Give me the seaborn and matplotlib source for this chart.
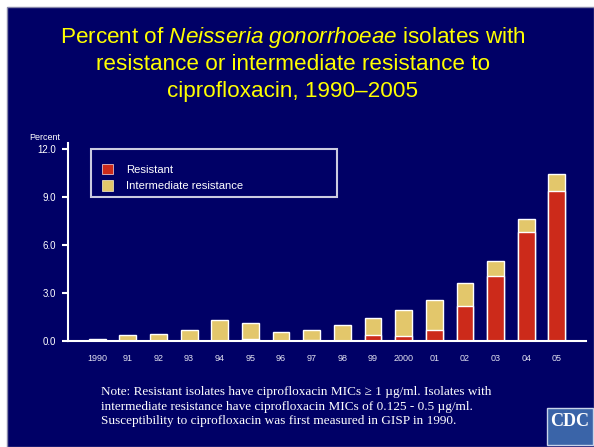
import numpy as np
import pandas as pd
import seaborn as sns
import matplotlib.pyplot as plt
from matplotlib.patches import Patch, Rectangle
from matplotlib.legend_handler import HandlerPatch

# data
years = ['1990', '91', '92', '93', '94', '95', '96', '97',
         '98', '99', '2000', '01', '02', '03', '04', '05']
resistant = [0.0, 0.0, 0.0, 0.0, 0.0, 0.1, 0.0, 0.05,
             0.0, 0.35, 0.3, 0.7, 2.2, 4.1, 6.8, 9.4]
intermediate = [0.15, 0.37, 0.45, 0.72, 1.34, 1.0, 0.58, 0.62,
                1.02, 1.11, 1.62, 1.87, 1.45, 0.93, 0.84, 1.06]
y_ticks = [0, 3, 6, 9, 12]

navy = '#000066'
red = '#CC2A1A'
yellow = '#E3C76B'

sns.set_style('ticks')
plt.rcParams['font.family'] = ['Liberation Sans', 'DejaVu Sans']
plt.rcParams['mathtext.fontset'] = 'custom'
plt.rcParams['mathtext.rm'] = 'Liberation Sans'
plt.rcParams['mathtext.it'] = 'Liberation Sans:italic'

df = pd.DataFrame({'year': years, 'resistant': resistant,
                   'intermediate': intermediate})
df['total'] = df['resistant'] + df['intermediate']

fig = plt.figure(figsize=(5.94, 4.47), dpi=100, facecolor='white')
fig.patches.append(Rectangle((7 / 594, 0), 1 - 7 / 594, 1 - 7 / 447,
                             transform=fig.transFigure, facecolor=navy,
                             edgecolor='#8888aa', lw=1, zorder=-10))

ax = fig.add_axes([68 / 594, 1 - 341 / 447, (586 - 68) / 594, (341 - 143) / 447])
ax.set_facecolor('none')

# stacked bars: total first (yellow), resistant on top of it (red)
sns.barplot(data=df, x='year', y='total', color=yellow, saturation=1,
            width=0.55, edgecolor='white', linewidth=1, ax=ax)
sns.barplot(data=df, x='year', y='resistant', color=red, saturation=1,
            width=0.55, edgecolor='white', linewidth=1, ax=ax)

ax.set_xlim(-0.95, 15.95)
ax.set_ylim(0, 12.4)
ax.set_yticks(y_ticks)
ax.set_yticklabels(['%.1f' % v for v in y_ticks])
ax.set_xlabel('')
ax.set_ylabel('')
sns.despine(ax=ax)
for s in ['left', 'bottom']:
    ax.spines[s].set_color('white')
    ax.spines[s].set_linewidth(1.5)
ax.tick_params(axis='y', colors='white', length=4, width=1.5,
               labelsize=7, pad=4.5)
ax.tick_params(axis='x', length=0, labelsize=6.5, labelcolor='#e0e0f0', pad=9.5)

handles = [Patch(facecolor=red, edgecolor='#ffdddd', lw=0.5, label='Resistant'),
           Patch(facecolor=yellow, edgecolor='#fff3cc', lw=0.5,
                 label='Intermediate resistance')]
leg = ax.legend(handles=handles, loc='upper left', mode='expand',
                bbox_to_anchor=(91 / 594, 1 - 197 / 447, 246 / 594, 48 / 447),
                bbox_transform=fig.transFigure, fontsize=8.1,
                title=' ', title_fontsize=2.8,
                frameon=True, fancybox=False, borderpad=0.46,
                labelspacing=0.5, handlelength=1.54, handleheight=1.02,
                handletextpad=1.11, borderaxespad=0,
                handler_map={Patch: HandlerPatch(xpad=0.52)})
leg.get_frame().set_facecolor(navy)
leg.get_frame().set_edgecolor('white')
leg.get_frame().set_linewidth(1.5)
for t in leg.get_texts():
    t.set_color('white')

fig.text(60 / 594, 1 - 137 / 447, 'Percent', color='white', fontsize=6.5,
         ha='right', va='center')

# title
fig.text(0.493, 1 - 37 / 447,
         r'Percent of $\mathit{Neisseria\ gonorrhoeae}$ isolates with',
         color='#FFFF00', fontsize=16.2, ha='center', va='center')
fig.text(0.493, 1 - 65 / 447, 'resistance or intermediate resistance to',
         color='#FFFF00', fontsize=16.2, ha='center', va='center')
fig.text(0.493, 1 - 91 / 447, 'ciprofloxacin, 1990\u20132005',
         color='#FFFF00', fontsize=16.2, ha='center', va='center')

note = ('Note: Resistant isolates have ciprofloxacin MICs \u2265 1 \u00b5g/ml. Isolates with\n'
        'intermediate resistance have ciprofloxacin MICs of 0.125 - 0.5 \u00b5g/ml.\n'
        'Susceptibility to ciprofloxacin was first measured in GISP in 1990.')
fig.text(101 / 594, 1 - 386 / 447, note, color='white', fontsize=9.5,
         family=['Liberation Serif', 'DejaVu Serif'], ha='left', va='top',
         linespacing=1.3)

# CDC logo box
fig.patches.append(Rectangle((547 / 594, 1 - 445 / 447), 46 / 594, 37 / 447,
                             transform=fig.transFigure, facecolor='#3a64a8',
                             edgecolor='#c8d4ea', lw=1, zorder=1))
fig.text(570 / 594, 1 - 422 / 447, 'CDC', color='white', fontsize=13,
         fontweight='bold', family=['Liberation Serif', 'DejaVu Serif'],
         ha='center', va='center', zorder=2)

fig.savefig('out.png', dpi=100, facecolor=fig.get_facecolor())
